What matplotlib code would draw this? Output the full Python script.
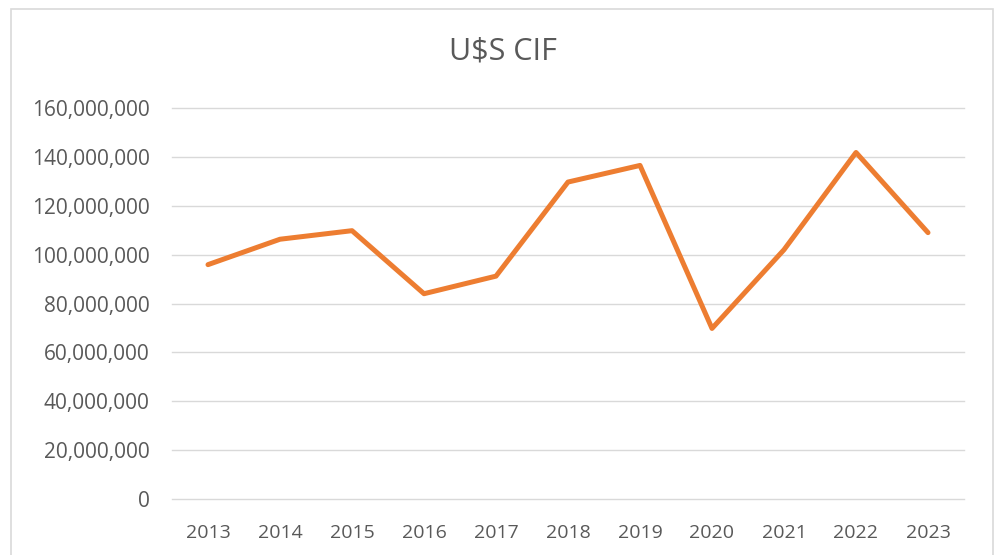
import matplotlib

matplotlib.use("Agg")
import matplotlib.pyplot as plt
from matplotlib.patches import Rectangle
from matplotlib.ticker import FuncFormatter, MultipleLocator

# ── Data ────────────────────────────────────────────────────────────
years = ["2013", "2014", "2015", "2016", "2017", "2018",
         "2019", "2020", "2021", "2022", "2023"]
cif_usd = [95.9e6, 106.3e6, 109.8e6, 84.0e6, 91.2e6, 129.7e6,
           136.5e6, 69.8e6, 102.0e6, 141.8e6, 109.0e6]

LINE_COLOR = "#ED7D31"
TEXT_COLOR = "#595959"
GRID_COLOR = "#D9D9D9"

plt.rcParams["font.family"] = ["Open Sans", "DejaVu Sans"]

# ── Plot ───────────────────────────────────────────────────────────
fig = plt.figure(figsize=(9.95, 5.55), dpi=100)
ax = fig.add_axes([172 / 995, 1 - 499 / 555, 792 / 995, 391 / 555])

x = list(range(len(years)))
ax.plot(x, cif_usd, color=LINE_COLOR, linewidth=3.6,
        solid_capstyle="round", solid_joinstyle="round", zorder=3)

ax.set_xlim(-0.5, len(years) - 0.5)
ax.set_ylim(0, 160e6)
ax.yaxis.set_major_locator(MultipleLocator(20e6))
ax.yaxis.set_major_formatter(FuncFormatter(lambda v, _: f"{v:,.0f}"))
ax.set_xticks(x)
ax.set_xticklabels(years)

ax.grid(axis="y", color=GRID_COLOR, linewidth=1.0)
for gl in ax.get_ygridlines():
    gl.set_clip_on(False)
ax.set_axisbelow(True)
for s in ax.spines.values():
    s.set_visible(False)
ax.tick_params(axis="both", length=0, labelcolor=TEXT_COLOR)
ax.tick_params(axis="y", pad=16, labelsize=15)
ax.tick_params(axis="x", pad=18, labelsize=14)

fig.text(503 / 995, 1 - 52 / 555, "U$S CIF", ha="center", va="center",
         fontsize=22, color=TEXT_COLOR)

# chart-area border (bottom runs past the image edge)
fig.patches.append(Rectangle((11 / 995, -0.05), 982 / 995, 1.05 - 9 / 555,
                             transform=fig.transFigure, fill=False,
                             edgecolor=GRID_COLOR, linewidth=1.2))

fig.savefig("out.png", dpi=100)
